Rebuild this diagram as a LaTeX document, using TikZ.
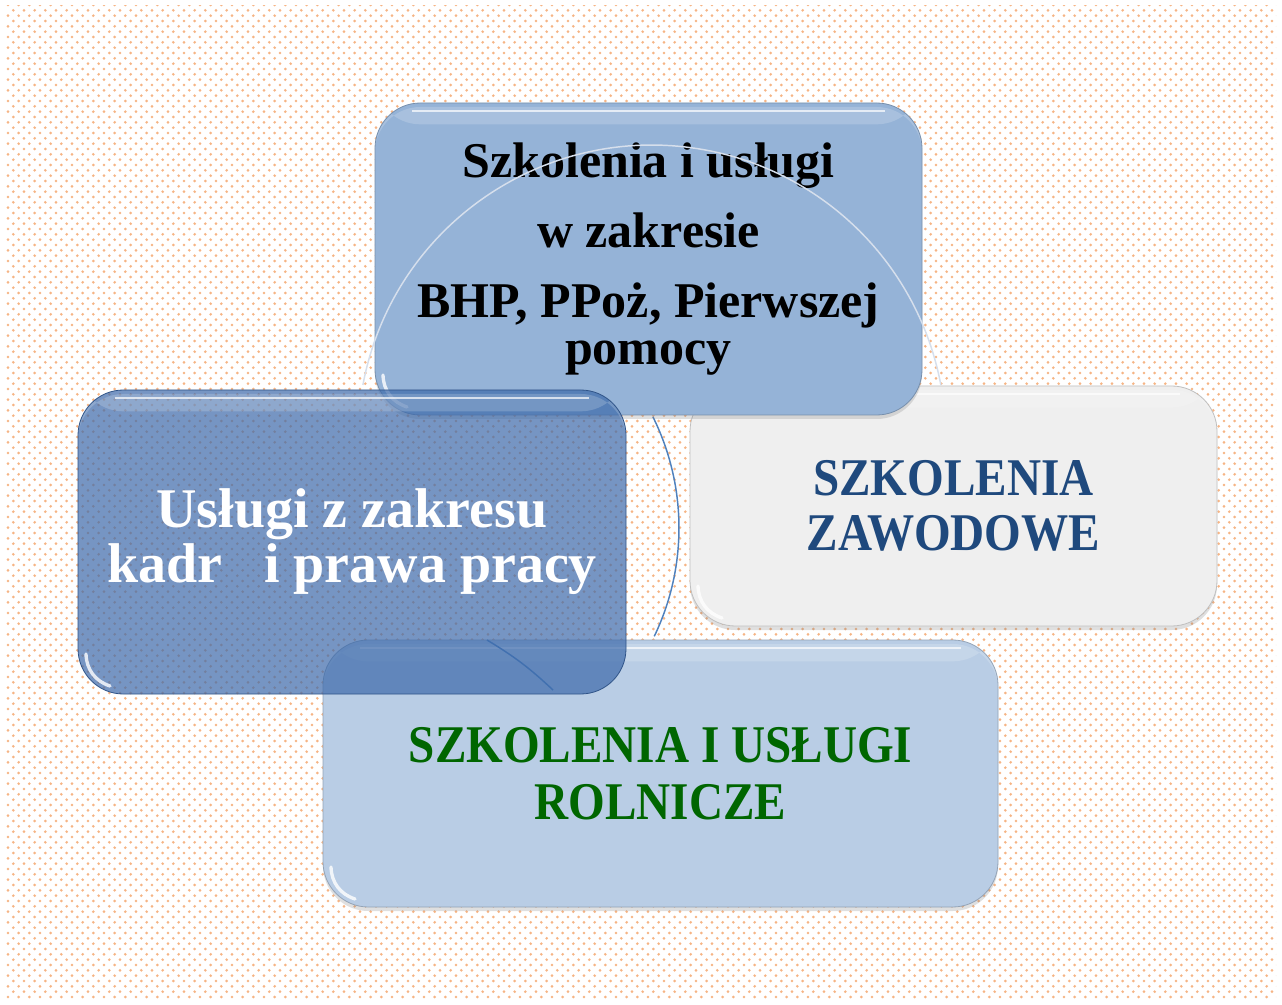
\documentclass[tikz,border=0pt]{standalone}
\usepackage{fontspec}
\setmainfont{Liberation Serif}
\newfontfamily\capsfont[FakeStretch=0.89]{Liberation Serif}
\usetikzlibrary{shadows,patterns}

\definecolor{bhpblue}{RGB}{149,179,215}
\definecolor{kadryblue}{RGB}{60,105,170}
\definecolor{zawodgray}{RGB}{239,239,239}
\definecolor{rolniczeblue}{RGB}{185,205,229}
\definecolor{navytext}{RGB}{31,73,125}
\definecolor{greentext}{RGB}{0,102,0}
\definecolor{dotorange}{RGB}{246,180,132}
\definecolor{arcblue}{RGB}{79,129,189}
\definecolor{arclight}{RGB}{214,223,236}

\pgfdeclarepatternformonly{orangedots}{\pgfpoint{-1pt}{-1pt}}{\pgfpoint{9pt}{9pt}}{\pgfpoint{8pt}{8pt}}{%
  \pgfpathcircle{\pgfpoint{2pt}{2pt}}{1.1pt}%
  \pgfpathcircle{\pgfpoint{6pt}{6pt}}{1.1pt}%
  \pgfusepath{fill}}

\tikzset{
  box/.style={rounded corners=34pt, inner sep=0pt, align=center, line width=0.6pt,
    draw=#1!80!black, fill=#1,
    path picture={
      \fill[white,opacity=.18] ([yshift=-3pt]path picture bounding box.north west) rectangle ([yshift=-16pt]path picture bounding box.north east);
      \draw[white,opacity=.7,line width=2pt] ([xshift=28pt,yshift=-6pt]path picture bounding box.north west) -- ([xshift=-28pt,yshift=-6pt]path picture bounding box.north east);
      \draw[white,opacity=.8,line width=2.5pt,line cap=round] ([xshift=6pt,yshift=30pt]path picture bounding box.south west) to[bend right=35] ([xshift=24pt,yshift=6pt]path picture bounding box.south west);
    }},
  shade/.style={drop shadow={shadow xshift=0pt, shadow yshift=-3pt, opacity=0.25}},
  cyclearc/.style={line width=1.1pt},
}

\begin{document}
\begin{tikzpicture}[x=0.75pt,y=-0.75pt]
\useasboundingbox (0,0) rectangle (1282,1005);
\fill[white] (0,0) rectangle (1282,1005);
\fill[pattern=orangedots,pattern color=dotorange] (6,6) rectangle (1276,999);

% arcs behind the boxes
\coordinate (a2s) at (652.9,416.8);
\coordinate (a2e) at (654.3,636.4);
\draw[cyclearc,arcblue] (a2s) arc[start angle=-26.4, end angle=25.7, radius=250];

\node[box=zawodgray,shade,minimum width=527*0.75pt,minimum height=240*0.75pt,
  font=\capsfont\fontsize{39.75pt}{41.25pt}\selectfont\bfseries,text=navytext] (zawod) at (953.5,506)
  {SZKOLENIA\\ZAWODOWE};

\node[box=rolniczeblue,shade,minimum width=675*0.75pt,minimum height=267*0.75pt,
  font=\capsfont\fontsize{39.75pt}{42.75pt}\selectfont\bfseries,text=greentext] (rolnicze) at (660.5,773.5)
  {SZKOLENIA I USŁUGI\\ROLNICZE};

\coordinate (a3s) at (487,640);
\coordinate (a3e) at (553,690);
\draw[cyclearc,arcblue] (a3s) to[bend left=6] (a3e);

\node[box=bhpblue,shade,minimum width=547*0.75pt,minimum height=312*0.75pt,
  font=\fontsize{37.5pt}{35pt}\selectfont\bfseries] (bhp) at (648.5,259)
  {Szkolenia i usługi\\[17.5pt] w zakresie\\[17.5pt] BHP, PPoż, Pierwszej\\ pomocy};

% light arc over the top box
\coordinate (a1s) at (362.9,385);
\coordinate (a1e) at (939.1,385);
\draw[cyclearc,arclight] (a1s) arc[start angle=190.6, end angle=349.4, radius=294];

\node[box=kadryblue,fill opacity=.7,text opacity=1,minimum width=548*0.75pt,minimum height=304*0.75pt,
  font=\fontsize{42pt}{41.25pt}\selectfont\bfseries,text=white] (kadry) at (352,542)
  {Usługi z zakresu\\kadr~~~i prawa pracy};

\end{tikzpicture}
\end{document}
